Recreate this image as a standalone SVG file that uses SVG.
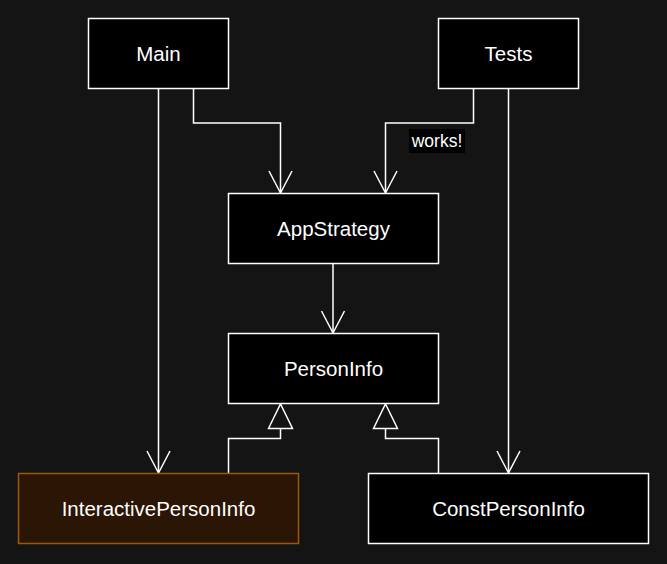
<svg xmlns="http://www.w3.org/2000/svg" width="667" height="564" viewBox="0 0 667 564">
<style>
.bg{fill:#141414}
.box{fill:#000;stroke:#fff;stroke-width:1.5}
.box.hl{fill:#2b1504;stroke:#9a5a08}
.lbl{font-family:"Liberation Sans",Arial,sans-serif;font-size:20.5px;fill:#fff;text-anchor:middle;dominant-baseline:central}
.edge{fill:none;stroke:#fff;stroke-width:1.5}
.elbl{font-family:"Liberation Sans",Arial,sans-serif;font-size:17.5px;fill:#fff;text-anchor:middle;dominant-baseline:central}
</style>
<defs>
<marker id="open" viewBox="-25 -14 28 28" markerWidth="28" markerHeight="28" refX="0" refY="0" orient="auto" markerUnits="userSpaceOnUse">
<path d="M-22,-11.5 L0,0 L-22,11.5" fill="none" stroke="#fff" stroke-width="1.5"/>
</marker>
<marker id="tri" viewBox="-27 -14 30 28" markerWidth="30" markerHeight="28" refX="0" refY="0" orient="auto" markerUnits="userSpaceOnUse">
<path d="M-24.5,-12 L0,0 L-24.5,12 Z" fill="#141414" stroke="#fff" stroke-width="1.5"/>
</marker>
</defs>
<rect class="bg" x="0" y="0" width="667" height="564"/>
<g id="connectors">
<path class="edge" d="M193.5,88.5 V123 H280.5 V193" marker-end="url(#open)"/>
<path class="edge" d="M473.5,88.5 V123 H385.5 V193" marker-end="url(#open)"/>
<path class="edge" d="M158.5,88.5 V473" marker-end="url(#open)"/>
<path class="edge" d="M508.5,88.5 V473" marker-end="url(#open)"/>
<path class="edge" d="M333,263 V333" marker-end="url(#open)"/>
<path class="edge" d="M228.5,473.5 V438.5 H280.5 V404" marker-end="url(#tri)"/>
<path class="edge" d="M438.5,473.5 V438.5 H385.5 V404" marker-end="url(#tri)"/>
<g id="works-label">
<rect x="409" y="129" width="56" height="24" fill="#000"/>
<text class="elbl" x="437" y="140.5">works!</text>
</g>
</g>
<g id="Main"><rect class="box" x="88.5" y="18.5" width="140" height="70"/><text class="lbl" x="158.5" y="53.5">Main</text></g>
<g id="Tests"><rect class="box" x="438.5" y="18.5" width="140" height="70"/><text class="lbl" x="508.5" y="53.5">Tests</text></g>
<g id="AppStrategy"><rect class="box" x="228.5" y="193.5" width="210" height="70"/><text class="lbl" x="333.5" y="228.5">AppStrategy</text></g>
<g id="PersonInfo"><rect class="box" x="228.5" y="333.5" width="210" height="70"/><text class="lbl" x="333.5" y="368.5">PersonInfo</text></g>
<g id="InteractivePersonInfo"><rect class="box hl" x="18.5" y="473.5" width="280" height="70"/><text class="lbl" x="158.5" y="508.5">InteractivePersonInfo</text></g>
<g id="ConstPersonInfo"><rect class="box" x="368.5" y="473.5" width="280" height="70"/><text class="lbl" x="508.5" y="508.5">ConstPersonInfo</text></g>
</svg>
